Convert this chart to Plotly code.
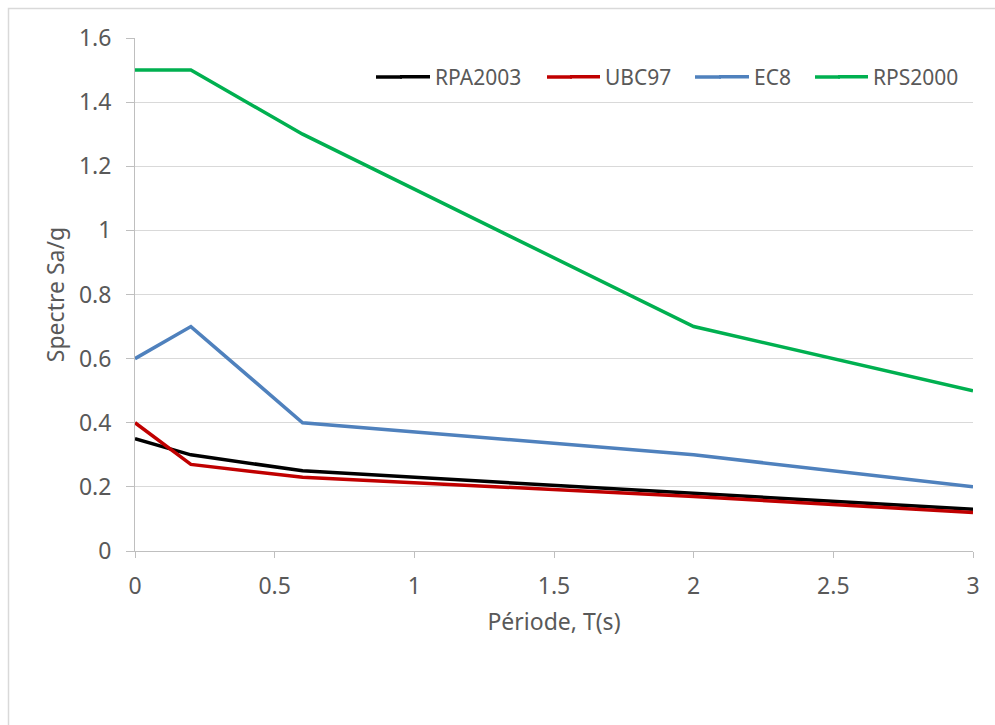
import plotly.graph_objects as go

periods = [0, 0.2, 0.6, 2, 3]
rpa2003 = [0.35, 0.30, 0.25, 0.18, 0.13]
ubc97 = [0.40, 0.27, 0.23, 0.17, 0.12]
ec8 = [0.60, 0.70, 0.40, 0.30, 0.20]
rps2000 = [1.50, 1.50, 1.30, 0.70, 0.50]

series = [
    ("RPA2003", rpa2003, "#000000"),
    ("UBC97", ubc97, "#C00000"),
    ("EC8", ec8, "#4F81BD"),
    ("RPS2000", rps2000, "#00B050"),
]

FONT = "Noto Sans"
TXT = "#595959"
LW = 3.5

W, H = 995, 725
L, R, T, B = 135, 22, 38, 174
pw, ph = W - L - R, H - T - B

def px2x(px):
    return (px - L) / pw

def px2y(py):
    return (H - B - py) / ph

legend_ids = ["legend", "legend2", "legend3", "legend4"]
legend_text_px = [435, 605, 754, 873]
legend_line_px = [376, 547, 695, 815]
LEG_Y = 77

fig = go.Figure()
for (name, vals, col), lid in zip(series, legend_ids):
    fig.add_trace(go.Scatter(x=periods, y=vals, mode="lines", name=name,
                             line=dict(color=col, width=LW), cliponaxis=False,
                             legend=lid))

legend_layout = {}
shapes = [dict(type="rect", xref="paper", yref="paper",
               x0=px2x(8.5), x1=px2x(1010), y0=px2y(8.5), y1=px2y(740),
               line=dict(color="#d9d9d9", width=1.5), fillcolor="rgba(0,0,0,0)", layer="below")]
for (name, vals, col), lid, tpx, lpx in zip(series, legend_ids, legend_text_px, legend_line_px):
    legend_layout[lid] = dict(orientation="h", x=px2x(tpx - 40), xanchor="left",
                              y=px2y(LEG_Y), yanchor="middle",
                              bgcolor="rgba(0,0,0,0)",
                              font=dict(family=FONT, size=21, color=TXT))
    # extend the legend key line to the reference's longer key length
    shapes.append(dict(type="line", xref="paper", yref="paper",
                       x0=px2x(lpx), x1=px2x(tpx - 33), y0=px2y(LEG_Y), y1=px2y(LEG_Y),
                       line=dict(color=col, width=LW), layer="above"))

fig.update_layout(
    width=W, height=H,
    margin=dict(l=L, r=R, t=T, b=B),
    paper_bgcolor="white", plot_bgcolor="white",
    font=dict(family=FONT, size=23, color=TXT),
    showlegend=True,
    **legend_layout,
    xaxis=dict(range=[0, 3], dtick=0.5, tick0=0, showgrid=False, zeroline=False,
               showline=True, linecolor="#bfbfbf", linewidth=1,
               ticks="outside", ticklen=6, tickcolor="#bfbfbf",
               ticklabelstandoff=8,
               title=dict(text="Période, T(s)", standoff=14,
                          font=dict(family=FONT, size=23, color=TXT))),
    yaxis=dict(range=[0, 1.6], dtick=0.2, tick0=0, showgrid=True, gridcolor="#d9d9d9",
               gridwidth=1, zeroline=False,
               showline=True, linecolor="#bfbfbf", linewidth=1,
               ticks="outside", ticklen=8, tickcolor="#bfbfbf",
               ticklabelstandoff=10,
               title=dict(text="Spectre Sa/g", standoff=7,
                          font=dict(family=FONT, size=23, color=TXT))),
    shapes=shapes,
)

fig.write_html("out.html")
